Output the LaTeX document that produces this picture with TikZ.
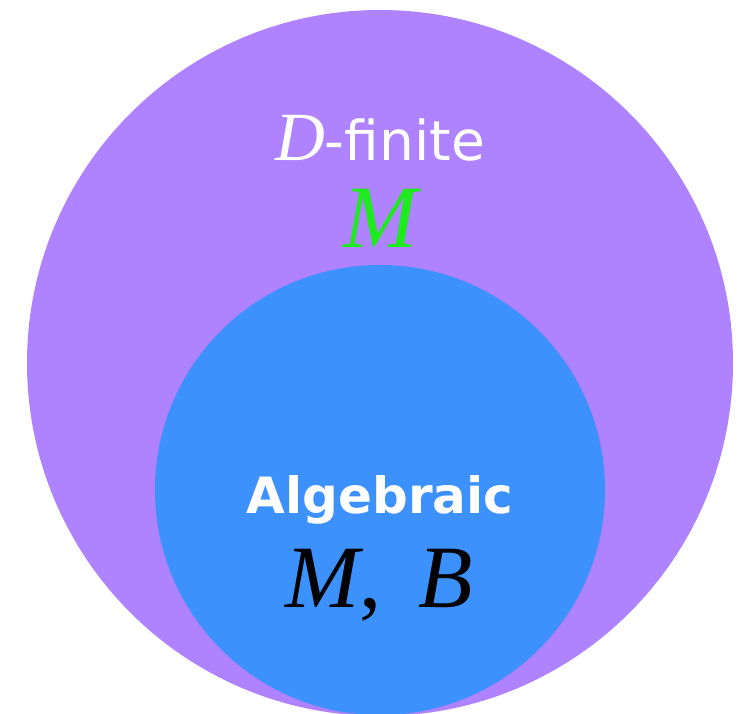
\documentclass[tikz,border=0pt]{standalone}
\usepackage{fontspec}
\setmainfont{Liberation Serif}
\setsansfont{DejaVu Sans}
\usepackage{tikz}
\usetikzlibrary{positioning}
\definecolor{dfinfill}{HTML}{AF82FF}
\definecolor{algfill}{HTML}{3D91FD}
\definecolor{mgreen}{HTML}{1EEB1E}

\begin{document}
\begin{tikzpicture}[x=1pt, y=-1pt,
  setdisc/.style={circle, inner sep=0pt, draw=none},
  title/.style={anchor=base, inner sep=0pt, text=white, font=\sffamily},
  member/.style={anchor=base, inner sep=0pt, font=\fontsize{89}{89}\selectfont\itshape}
]
\useasboundingbox (0,0) rectangle (750,714);
\node[setdisc, fill=dfinfill, minimum size=706pt] (dfinite) at (380,363) {};
\node[setdisc, fill=algfill, minimum size=450pt] (algebraic) at (380,490) {};

\node[title] (dlabel) at (380,161) {{\fontsize{69}{69}\selectfont\rmfamily\itshape D}{\fontsize{55}{55}\selectfont -finite}};
\node[member, text=mgreen] (dmember) at (381,248) {M};
\node[title, font=\sffamily\bfseries\fontsize{50}{50}\selectfont] (alabel) at (380,513) {Algebraic};
\node[member, text=black] (amember) at (379,607) {M\upshape,\, \itshape B};
\end{tikzpicture}
\end{document}
